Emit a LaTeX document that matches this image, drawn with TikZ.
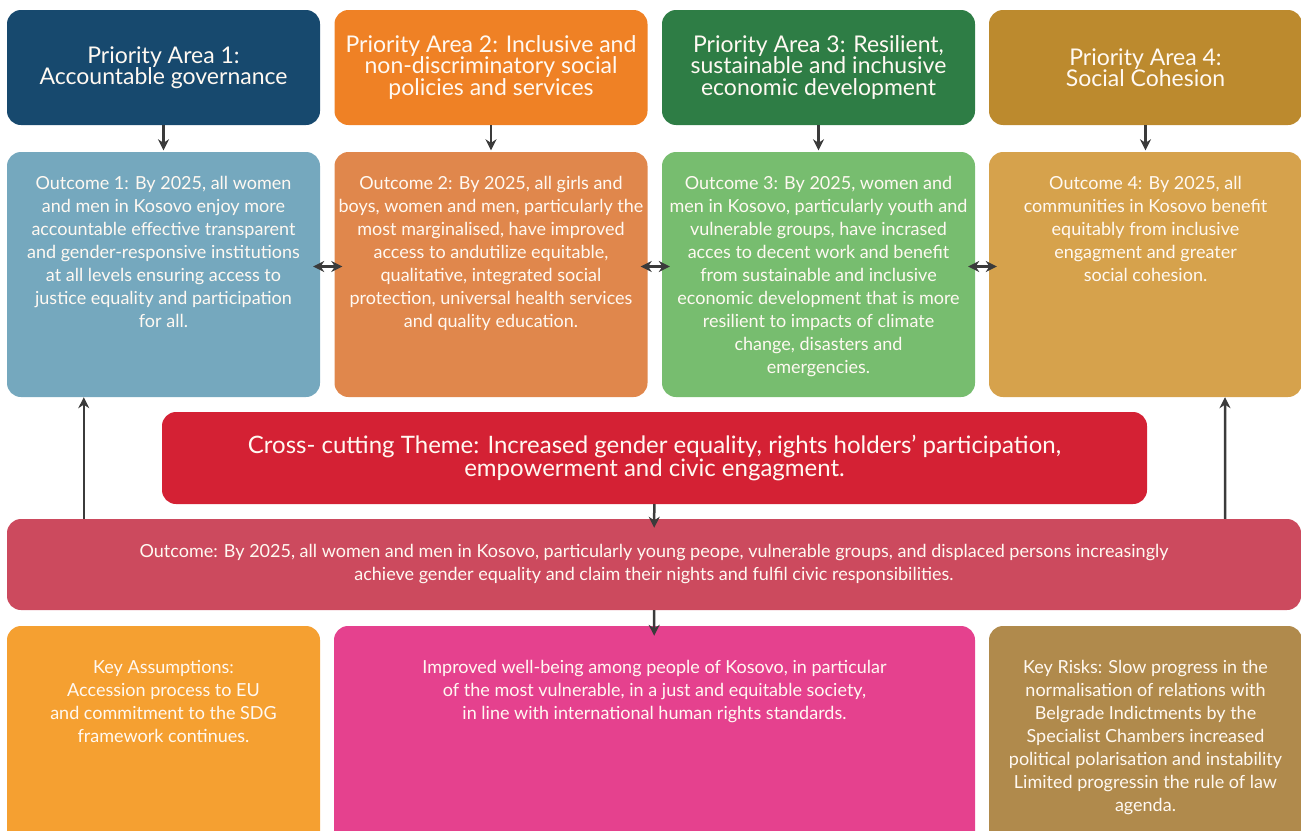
\documentclass[tikz,border=0pt]{standalone}
\usepackage{fontspec}
\setmainfont{Lato}
\usetikzlibrary{arrows.meta,positioning}
\definecolor{pa1}{HTML}{17496E}
\definecolor{pa2}{HTML}{EF8125}
\definecolor{pa3}{HTML}{2E7D45}
\definecolor{pa4}{HTML}{BC8A2E}
\definecolor{oc1}{HTML}{75A8BE}
\definecolor{oc2}{HTML}{E0874C}
\definecolor{oc3}{HTML}{77BD6F}
\definecolor{oc4}{HTML}{D6A24C}
\definecolor{cross}{HTML}{D42134}
\definecolor{wide}{HTML}{CC4A5E}
\definecolor{assum}{HTML}{F5A031}
\definecolor{impact}{HTML}{E5418E}
\definecolor{risks}{HTML}{B08A4C}
\definecolor{txt}{HTML}{FFF9F2}
\definecolor{arrcol}{HTML}{3B3B3B}
\begin{document}
\begin{tikzpicture}[x=1pt,y=-1pt,line cap=round,line join=round,
	box/.style={rounded corners=14,text=txt,align=center,inner sep=0pt},
	head/.style={box,minimum width=313,minimum height=115,font=\fontsize{23}{21.5}\selectfont},
	obox/.style={box,minimum width=313,minimum height=245},
	otext/.style={text=txt,align=center,inner sep=0pt,font=\fontsize{18}{23}\selectfont},
	arr/.style={draw=arrcol,line width=2.5pt,line cap=butt,-{Stealth[length=11pt,width=11pt]}},
	arrb/.style={draw=arrcol,line width=2.5pt,line cap=butt,{Stealth[length=11pt,width=11pt]}-{Stealth[length=11pt,width=11pt]}}]
	\useasboundingbox (0,0) rectangle (1301,830);
	% priority areas
	\node[head,fill=pa1] (p1) at (163.5,67.5) {Priority Area 1:\\Accountable governance};
	\node[head,fill=pa2] (p2) at (491,67.5) {Priority Area 2: Inclusive and\\non-discriminatory social\\policies and services};
	\node[head,fill=pa3] (p3) at (818.5,67.5) {Priority Area 3: Resilient,\\sustainable and inchusive\\economic development};
	\node[head,fill=pa4] (p4) at (1145.5,67.5) {Priority Area 4:\\Social Cohesion};
	% outcomes
	\node[obox,fill=oc1] (o1) at (163.5,274.5) {};
	\node[obox,fill=oc2] (o2) at (491,274.5) {};
	\node[obox,fill=oc3] (o3) at (818.5,274.5) {};
	\node[obox,fill=oc4] (o4) at (1145.5,274.5) {};
	\node[otext,below=24pt of o1.north] (t1) {Outcome 1: By 2025, all women\\and men in Kosovo enjoy more\\accountable effective transparent\\and gender-responsive institutions\\at all levels ensuring access to\\justice equality and participation\\for all.};
	\node[otext,below=24pt of o2.north] (t2) {Outcome 2: By 2025, all girls and\\boys, women and men, particularly the\\most marginalised, have improved\\access to andutilize equitable,\\qualitative, integrated social\\protection, universal health services\\and quality education.};
	\node[otext,below=24pt of o3.north] (t3) {Outcome 3: By 2025, women and\\men in Kosovo, particularly youth and\\vulnerable groups, have incrased\\acces to decent work and benefit\\from sustainable and inclusive\\economic development that is more\\resilient to impacts of climate\\change, disasters and\\emergencies.};
	\node[otext,below=24pt of o4.north] (t4) {Outcome 4: By 2025, all\\communities in Kosovo benefit\\equitably from inclusive\\engagment and greater\\social cohesion.};
	% cross-cutting and joint outcome
	\node[box,fill=cross,minimum width=985,minimum height=92,font=\fontsize{24}{21.5}\selectfont] (cc) at (654.5,458) {Cross- cutting Theme: Increased gender equality, rights holders’ participation,\\empowerment and civic engagment.};
	\node[box,fill=wide,minimum width=1294,minimum height=91,font=\fontsize{18}{23}\selectfont] (oc) at (654,564.5) {Outcome: By 2025, all women and men in Kosovo, particularly young peope, vulnerable groups, and displaced persons increasingly\\achieve gender equality and claim their nights and fulfil civic responsibilities.};
	% bottom row
	\node[box,fill=assum,minimum width=313,minimum height=230] (ka) at (163.5,741) {};
	\node[box,fill=impact,minimum width=641,minimum height=230] (im) at (654.5,741) {};
	\node[box,fill=risks,minimum width=313,minimum height=230] (kr) at (1145.5,741) {};
	\node[otext,below=34pt of ka.north] (tka) {Key Assumptions:\\Accession process to EU\\and commitment to the SDG\\framework continues.};
	\node[otext,below=34pt of im.north] (tim) {Improved well-being among people of Kosovo, in particular\\of the most vulnerable, in a just and equitable society,\\in line with international human rights standards.};
	\node[otext,below=34pt of kr.north] (tkr) {Key Risks: Slow progress in the\\normalisation of relations with\\Belgrade Indictments by the\\Specialist Chambers increased\\political polarisation and instability\\Limited progressin the rule of law\\agenda.};
	% arrows
	\draw[arr,shorten >=1.5pt] (p1) -- (o1);
	\draw[arr,shorten >=1.5pt] (p2) -- (o2);
	\draw[arr,shorten >=1.5pt] (p3) -- (o3);
	\draw[arr,shorten >=1.5pt] (p4) -- (o4);
	\draw[arrb,shorten <=-7pt,shorten >=-8pt] ([yshift=8pt]o1.east) -- ([yshift=8pt]o2.west);
	\draw[arrb,shorten <=-7pt,shorten >=-8pt] ([yshift=8pt]o2.east) -- ([yshift=8pt]o3.west);
	\draw[arrb,shorten <=-7pt,shorten >=-8pt] ([yshift=8pt]o3.east) -- ([yshift=8pt]o4.west);
	\draw[arr] ([xshift=77pt]oc.north west) -- ([xshift=77pt]o1.south west);
	\draw[arr] ([xshift=-76pt]oc.north east) -- ([xshift=79.5pt]o4.south);
	\draw[arr,shorten >=-9pt] (cc) -- (oc);
	\draw[arr,shorten >=-10pt] (oc) -- (im);
\end{tikzpicture}
\end{document}
